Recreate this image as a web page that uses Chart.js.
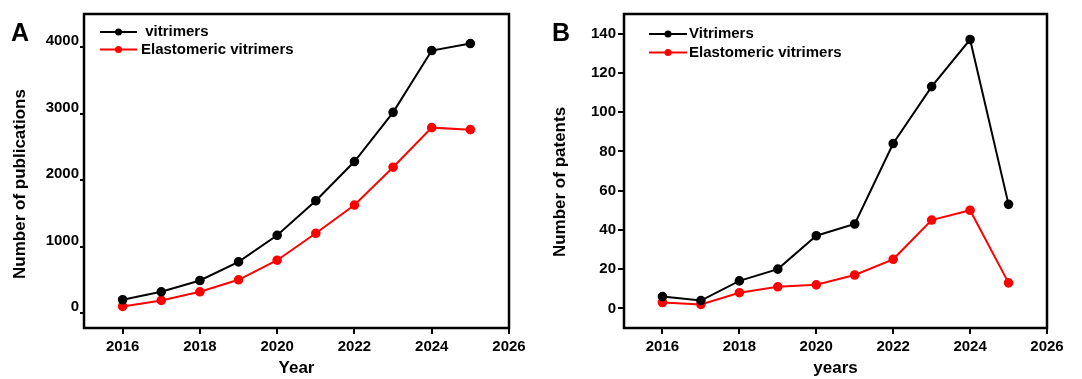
<!DOCTYPE html>
<html>
<head>
<meta charset="utf-8">
<script src="https://cdn.jsdelivr.net/npm/chart.js@4"></script>
<style>
  html, body { margin: 0; padding: 0; background: #fff; }
  #wrap { position: relative; width: 1082px; height: 379px; overflow: hidden; }
  canvas { position: absolute; top: 0; }
  #chartA { left: 0; }
  #chartB { left: 540px; }
  .panel { position: absolute; top: 18px; font: bold 25px "Liberation Sans", Arial, sans-serif; color: #000; }
</style>
</head>
<body>
<div id="wrap">
  <canvas id="chartA" width="540" height="379"></canvas>
  <canvas id="chartB" width="542" height="379"></canvas>
  <div class="panel" style="left:11px">A</div>
  <div class="panel" style="left:552px">B</div>
</div>
<script>
const years = [2016, 2017, 2018, 2019, 2020, 2021, 2022, 2023, 2024, 2025];
const pubVitrimers = [200, 320, 490, 770, 1170, 1690, 2280, 3020, 3950, 4055];
const pubElastomeric = [100, 190, 320, 500, 795, 1200, 1625, 2195, 2790, 2760];
const patVitrimers = [6, 4, 14, 20, 37, 43, 84, 113, 137, 53];
const patElastomeric = [3, 2, 8, 11, 12, 17, 25, 45, 50, 13];

const xTickValues = [2016, 2018, 2020, 2022, 2024, 2026];
const pubTickValues = [0, 1000, 2000, 3000, 4000];
const patTickValues = [0, 20, 40, 60, 80, 100, 120, 140];

Chart.defaults.font.family = '"Liberation Sans", Arial, sans-serif';
Chart.defaults.font.weight = 'bold';
Chart.defaults.color = '#000';

// frame around the plot, y title, legend inside the plot
const framePlugin = {
    id: 'frameLegend',
    afterDraw(chart, args, opts) {
        const ctx = chart.ctx;
        const a = chart.chartArea;
        ctx.save();
        ctx.strokeStyle = '#000';
        ctx.lineWidth = 2.5;
        ctx.strokeRect(a.left, a.top, a.right - a.left, a.bottom - a.top);

        // y axis title, sits a bit below the plot centre in the original
        ctx.save();
        ctx.translate(20, opts.titleY);
        ctx.rotate(-Math.PI / 2);
        ctx.font = 'bold 17px "Liberation Sans", Arial, sans-serif';
        ctx.textAlign = 'center';
        ctx.textBaseline = 'middle';
        ctx.fillStyle = '#000';
        ctx.fillText(opts.yTitle, 0, 0);
        ctx.restore();

        ctx.font = 'bold 15px "Liberation Sans", Arial, sans-serif';
        ctx.textBaseline = 'middle';
        chart.data.datasets.forEach((ds, i) => {
            const y = opts.y + i * opts.dy;
            ctx.strokeStyle = ds.borderColor;
            ctx.lineWidth = 2;
            ctx.beginPath();
            ctx.moveTo(opts.x, y);
            ctx.lineTo(opts.x + opts.len, y);
            ctx.stroke();
            ctx.fillStyle = ds.borderColor;
            ctx.beginPath();
            ctx.arc(opts.x + opts.len / 2, y, 3.5, 0, Math.PI * 2);
            ctx.fill();
            ctx.fillStyle = '#000';
            ctx.fillText(ds.label, opts.x + opts.len + opts.gap, y);
        });
        ctx.restore();
    }
};

function makeChart(id, cfg) {
    const series = (vals) => years.map((x, i) => ({ x: x, y: vals[i] }));
    return new Chart(document.getElementById(id), {
        type: 'line',
        data: {
            datasets: [{
                label: cfg.labels[0],
                data: series(cfg.black),
                borderColor: '#000000',
                backgroundColor: '#000000',
                borderWidth: 2,
                pointRadius: 3.8,
                tension: 0
            }, {
                label: cfg.labels[1],
                data: series(cfg.red),
                borderColor: '#ff0000',
                backgroundColor: '#ff0000',
                borderWidth: 2,
                pointRadius: 3.8,
                tension: 0
            }]
        },
        options: {
            responsive: false,
            animation: false,
            layout: { padding: { left: 0, right: cfg.padRight, top: 14, bottom: 0 } },
            plugins: {
                legend: { display: false },
                tooltip: { enabled: false },
                frameLegend: cfg.legend
            },
            scales: {
                x: {
                    type: 'linear',
                    min: 2015,
                    max: 2026,
                    afterBuildTicks: (axis) => { axis.ticks = xTickValues.map(v => ({ value: v })); },
                    afterFit: (axis) => { axis.height = 51; },
                    grid: { drawOnChartArea: false, tickLength: 6, color: '#000', lineWidth: 2 },
                    border: { display: false },
                    ticks: { font: { size: 15 }, padding: 4, maxRotation: 0, callback: v => String(v) },
                    title: { display: true, text: cfg.xTitle, font: { size: 17 }, padding: { top: 0, bottom: 0 } }
                },
                y: {
                    min: cfg.yMin,
                    max: cfg.yMax,
                    afterBuildTicks: (axis) => { axis.ticks = cfg.yTicks.map(v => ({ value: v })); },
                    afterFit: (axis) => { axis.width = 84; },
                    grid: { drawOnChartArea: false, tickLength: cfg.yTickLen, color: '#000', lineWidth: 2 },
                    border: { display: false },
                    ticks: { font: { size: 15 }, padding: cfg.yPad, labelOffset: cfg.yLabelOffset, callback: v => String(v) },
                    title: { display: false }
                }
            }
        },
        plugins: [framePlugin]
    });
}

makeChart('chartA', {
    labels: [' vitrimers', 'Elastomeric vitrimers'],
    black: pubVitrimers,
    red: pubElastomeric,
    xTitle: 'Year',
    yMin: -225,
    yMax: 4500,
    yTicks: pubTickValues,
    yTickLen: 4,
    yPad: 1,
    yLabelOffset: -6,
    padRight: 31,
    legend: { x: 100, y: 32, dy: 17.5, len: 37, gap: 4, yTitle: 'Number of publications', titleY: 184 }
});

makeChart('chartB', {
    labels: ['Vitrimers', 'Elastomeric vitrimers'],
    black: patVitrimers,
    red: patElastomeric,
    xTitle: 'years',
    yMin: -10,
    yMax: 150,
    yTicks: patTickValues,
    yTickLen: 6,
    yPad: 2,
    yLabelOffset: 0,
    padRight: 35,
    legend: { x: 109, y: 34, dy: 18.5, len: 38, gap: 2, yTitle: 'Number of patents', titleY: 182 }
});
</script>
</body>
</html>
